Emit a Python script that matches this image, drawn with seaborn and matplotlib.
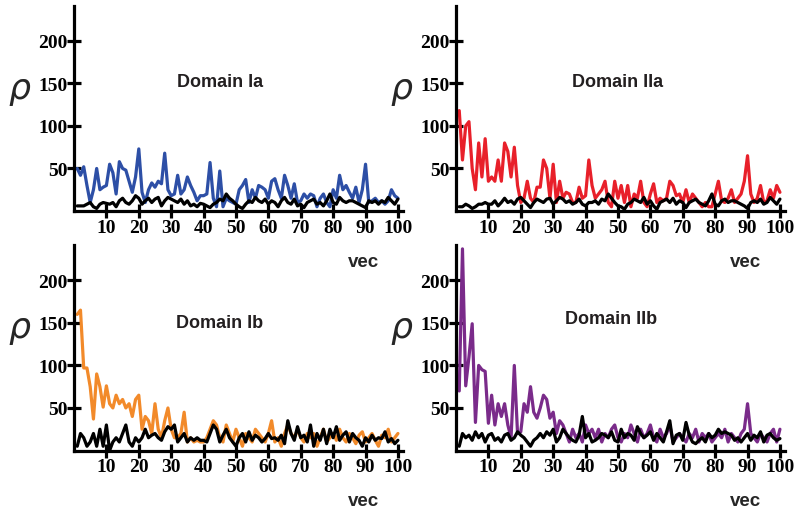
import numpy as np
import pandas as pd
import matplotlib
matplotlib.use("Agg")
import matplotlib.pyplot as plt
import seaborn as sns

# === Data ===
vec = list(range(1, 101))

dom_ia = [50, 42, 52, 30, 10, 25, 50, 25, 28, 30, 55, 45, 20, 58, 50, 48, 35, 22, 40, 73,
          22, 10, 25, 33, 28, 35, 32, 68, 25, 18, 20, 42, 20, 25, 40, 30, 22, 12, 18, 18,
          20, 57, 15, 5, 47, 5, 15, 12, 10, 8, 25, 30, 37, 10, 25, 15, 30, 28, 25, 15,
          35, 38, 25, 15, 42, 30, 15, 32, 10, 12, 20, 15, 20, 18, 5, 15, 20, 10, 5, 25,
          15, 42, 25, 30, 22, 15, 28, 10, 25, 55, 10, 12, 15, 10, 12, 8, 12, 25, 18, 15]
ctrl_ia = [6, 6, 6, 8, 10, 5, 3, 8, 10, 9, 8, 10, 5, 12, 15, 10, 8, 12, 18, 15,
           8, 12, 15, 10, 14, 16, 6, 12, 16, 14, 12, 10, 14, 8, 12, 6, 8, 5, 9, 8,
           6, 4, 8, 10, 14, 12, 20, 15, 12, 8, 5, 3, 8, 12, 10, 16, 12, 10, 14, 8,
           12, 10, 5, 12, 16, 10, 8, 14, 6, 8, 4, 10, 12, 14, 8, 10, 6, 12, 20, 10,
           8, 16, 12, 10, 12, 12, 10, 8, 6, 4, 12, 10, 12, 8, 12, 10, 16, 12, 8, 14]

dom_iia = [118, 60, 100, 105, 50, 25, 80, 40, 85, 35, 40, 35, 60, 35, 80, 70, 40, 75, 30, 10,
           15, 35, 15, 10, 28, 28, 60, 50, 15, 55, 10, 35, 15, 22, 20, 10, 10, 28, 15, 18,
           60, 30, 15, 20, 25, 35, 10, 5, 35, 15, 30, 10, 30, 5, 20, 15, 35, 10, 5, 20,
           32, 10, 15, 12, 15, 35, 30, 18, 20, 10, 25, 10, 20, 15, 10, 5, 10, 5, 5, 20,
           35, 12, 10, 15, 25, 10, 15, 20, 35, 65, 20, 10, 15, 30, 10, 12, 25, 15, 30, 22]
ctrl_iia = [5, 5, 8, 6, 3, 5, 8, 8, 10, 8, 8, 12, 6, 10, 15, 10, 12, 8, 14, 16,
            12, 8, 4, 10, 14, 12, 10, 14, 15, 8, 12, 16, 14, 10, 12, 8, 10, 14, 8, 6,
            10, 10, 12, 8, 14, 12, 20, 15, 10, 6, 5, 2, 8, 10, 14, 12, 10, 16, 8, 12,
            6, 2, 10, 12, 14, 10, 15, 8, 12, 10, 4, 10, 12, 14, 10, 8, 6, 12, 20, 8,
            6, 12, 14, 10, 12, 12, 10, 8, 6, 3, 10, 12, 10, 14, 8, 10, 16, 12, 8, 14]

dom_ib = [160, 165, 97, 97, 75, 37, 90, 75, 51, 76, 55, 50, 65, 55, 60, 50, 55, 40, 60, 65,
          25, 40, 35, 20, 55, 25, 15, 35, 50, 25, 15, 15, 20, 45, 10, 15, 10, 12, 10, 10,
          15, 25, 35, 30, 15, 10, 30, 20, 10, 25, 15, 5, 20, 15, 10, 25, 20, 15, 10, 20,
          35, 10, 15, 5, 20, 30, 20, 15, 25, 15, 10, 20, 15, 20, 5, 15, 25, 10, 15, 20,
          12, 25, 15, 10, 20, 15, 8, 18, 22, 10, 15, 20, 12, 5, 18, 15, 25, 10, 15, 20]
ctrl_ib = [5, 20, 15, 5, 10, 20, 5, 25, 5, 30, 0, 10, 15, 10, 20, 30, 10, 5, 15, 10,
           15, 25, 15, 18, 20, 15, 12, 22, 28, 25, 30, 10, 15, 20, 10, 15, 12, 15, 12, 12,
           10, 20, 30, 25, 10, 18, 25, 15, 10, 5, 15, 20, 10, 22, 12, 18, 15, 10, 14, 20,
           14, 15, 12, 18, 8, 35, 20, 12, 28, 15, 18, 10, 30, 5, 20, 12, 25, 8, 25, 15,
           28, 12, 18, 22, 10, 20, 15, 12, 5, 15, 10, 18, 12, 15, 14, 22, 10, 14, 8, 12]

dom_iib = [70, 237, 76, 110, 149, 33, 100, 95, 93, 32, 65, 30, 55, 40, 55, 30, 15, 100, 20, 22,
           55, 45, 75, 45, 38, 50, 65, 60, 38, 45, 20, 35, 30, 20, 10, 25, 15, 20, 10, 30,
           20, 25, 15, 25, 10, 20, 15, 25, 30, 15, 10, 20, 15, 30, 20, 10, 25, 15, 20, 30,
           15, 10, 25, 15, 20, 30, 10, 15, 20, 15, 10, 20, 15, 25, 10, 20, 15, 20, 10, 15,
           20, 15, 25, 10, 20, 15, 10, 20, 25, 55, 20, 15, 10, 20, 15, 10, 20, 25, 10, 25]
ctrl_iib = [5, 20, 15, 18, 12, 22, 15, 20, 10, 18, 20, 12, 15, 10, 18, 20, 12, 15, 22, 18,
            15, 10, 5, 12, 15, 20, 15, 22, 18, 25, 10, 15, 25, 20, 15, 12, 10, 18, 40, 15,
            20, 10, 12, 15, 20, 18, 15, 22, 12, 10, 25, 15, 20, 18, 12, 28, 20, 15, 18, 22,
            12, 20, 15, 10, 22, 35, 8, 18, 20, 12, 33, 18, 10, 8, 12, 15, 10, 20, 15, 18,
            25, 20, 22, 20, 18, 12, 15, 10, 15, 20, 12, 18, 15, 22, 10, 18, 20, 15, 12, 14]

titles = ["Domain Ia", "Domain IIa", "Domain Ib", "Domain IIb"]
colors = ["#2d4fa6", "#e8202a", "#f28a2a", "#7a2b8a"]
domains = [dom_ia, dom_iia, dom_ib, dom_iib]
controls = [ctrl_ia, ctrl_iia, ctrl_ib, ctrl_iib]

# === Figure ===
sns.set_style("ticks")
fig = plt.figure(figsize=(8, 5.1), dpi=100)

positions = [
    [0.0925, 0.5843, 0.411, 0.402],
    [0.570, 0.5843, 0.411, 0.402],
    [0.0925, 0.1147, 0.411, 0.402],
    [0.570, 0.1147, 0.411, 0.402],
]
title_xy = [(45, 152), (50, 152), (45, 151), (48, 155)]

tick_font = dict(family="Liberation Serif", weight="bold", size=14)

for i in range(4):
    ax = fig.add_axes(positions[i])
    ax.patch.set_visible(False)
    df = pd.DataFrame({"vec": vec, "domain": domains[i], "control": controls[i]})
    sns.lineplot(data=df, x="vec", y="domain", color=colors[i], linewidth=2.3, ax=ax)
    sns.lineplot(data=df, x="vec", y="control", color="black", linewidth=2.3, ax=ax)

    ax.set_xlim(0, 101.5)
    ax.set_ylim(0, 241)
    ax.set_xticks(range(10, 101, 10))
    ax.set_yticks([50, 100, 150, 200])
    ax.set_xticklabels([str(v) for v in range(10, 101, 10)], fontdict=tick_font)
    ax.set_yticklabels(["50", "100", "150", "200"], fontdict=tick_font)
    ax.tick_params(direction="inout", length=9.5, width=2.3, colors="black")
    ax.tick_params(axis="y", pad=0)
    ax.tick_params(axis="x", pad=1)
    sns.despine(ax=ax)
    for s in ["left", "bottom"]:
        ax.spines[s].set_linewidth(2.3)
        ax.spines[s].set_color("black")
    ax.set_xlabel("")
    ax.set_ylabel("")

    ax.text(title_xy[i][0], title_xy[i][1], titles[i], ha="center", va="center",
            fontsize=13, fontweight="bold", family="Liberation Sans", color="#231f20")
    ax.text(-0.167, 0.60, "\u03c1", transform=ax.transAxes, ha="center", va="center",
            fontsize=25, style="italic", family="DejaVu Sans")
    ax.text(0.88, -0.245, "vec", transform=ax.transAxes, ha="center", va="center",
            fontsize=13.5, fontweight="bold", family="Liberation Sans", zorder=10)

fig.savefig("out.png", dpi=100)
